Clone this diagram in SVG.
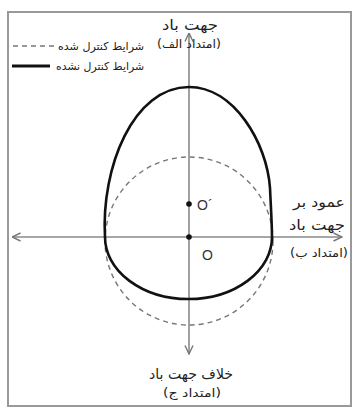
<svg xmlns="http://www.w3.org/2000/svg" width="358" height="412" viewBox="0 0 358 412">
<style>
  .frame{fill:#fff;stroke:#999;stroke-width:2}
  .axis{fill:none;stroke:#8a8a8a;stroke-width:1.6}
  .solid{fill:none;stroke:#111;stroke-width:2.6}
  .dash{fill:none;stroke:#777;stroke-width:1.4;stroke-dasharray:5 4}
  .fa{font-family:"DejaVu Sans",sans-serif;fill:#222;text-anchor:middle}
  .big{font-size:14px}
  .small{font-size:11.5px}
  .leg{font-size:11px;text-anchor:start}
  .lat{font-family:"Liberation Sans",Arial,sans-serif;font-size:14px;fill:#333}
</style>
<defs>
  <marker id="arr" viewBox="0 0 10 10" refX="9.5" refY="5" markerWidth="10" markerHeight="10" markerUnits="userSpaceOnUse" orient="auto-start-reverse">
    <path d="M1,1 L9.5,5 L1,9" fill="none" stroke="#777" stroke-width="1.4"/>
  </marker>
</defs>
<rect class="frame" x="8" y="12" width="343" height="394"/>

<g id="legend">
  <line class="dash" x1="13" y1="46" x2="55" y2="46"/>
  <text class="fa leg" x="58" y="50" textLength="86" lengthAdjust="spacingAndGlyphs">شرایط کنترل شده</text>
  <line x1="12" y1="66" x2="50" y2="66" stroke="#111" stroke-width="3"/>
  <text class="fa leg" x="56" y="70" textLength="88" lengthAdjust="spacingAndGlyphs">شرایط کنترل نشده</text>
</g>

<g id="connectors">
  <line class="axis" x1="189" y1="354" x2="189" y2="33" marker-start="url(#arr)" marker-end="url(#arr)"/>
  <line class="axis" x1="12" y1="237" x2="342" y2="237" marker-start="url(#arr)" marker-end="url(#arr)"/>
</g>

<g id="curves">
  <circle class="dash" cx="189" cy="241" r="84"/>
  <path class="solid" d="M105,237 C101,168 133,87 189,87 C234,87 267,143 270,188 C271,210 272,225 272,237 A83.5,62 0 0 1 105,237 Z"/>
</g>

<g id="points">
  <circle cx="189" cy="204" r="2.8" fill="#111"/>
  <circle cx="189" cy="237" r="2.8" fill="#111"/>
  <text class="lat" x="197" y="210">O´</text>
  <text class="lat" x="202" y="260">O</text>
</g>

<g id="label-top">
  <text class="fa big" x="190" y="30" textLength="56" lengthAdjust="spacingAndGlyphs">جهت باد</text>
  <text class="fa small" x="189" y="48" textLength="64" lengthAdjust="spacingAndGlyphs">(امتداد الف)</text>
</g>
<g id="label-right">
  <text class="fa big" x="319" y="207" textLength="52" lengthAdjust="spacingAndGlyphs">عمود بر</text>
  <text class="fa big" x="317" y="230" textLength="56" lengthAdjust="spacingAndGlyphs">جهت باد</text>
  <text class="fa small" x="319" y="257" textLength="58" lengthAdjust="spacingAndGlyphs">(امتداد ب)</text>
</g>
<g id="label-bottom">
  <text class="fa big" x="191" y="379" textLength="84" lengthAdjust="spacingAndGlyphs">خلاف جهت باد</text>
  <text class="fa small" x="192" y="397" textLength="58" lengthAdjust="spacingAndGlyphs">(امتداد ج)</text>
</g>
</svg>
